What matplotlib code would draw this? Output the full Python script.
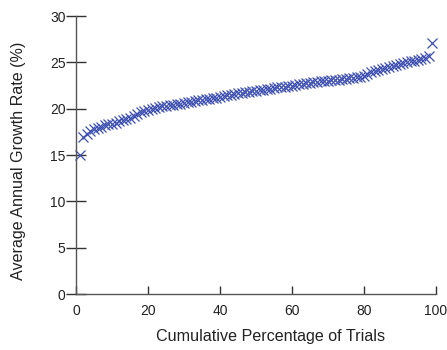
import matplotlib
matplotlib.use("Agg")
import matplotlib.pyplot as plt
import numpy as np

plt.rcParams['font.family'] = ['Liberation Sans', 'DejaVu Sans']

trial_pct = list(range(1, 100))
growth_rate = [
    15.0, 16.9, 17.3, 17.6, 17.8, 17.9, 18.0, 18.2, 18.3, 18.4,
    18.5, 18.7, 18.8, 18.9, 19.0, 19.2, 19.4, 19.6, 19.8, 19.9,
    20.0, 20.1, 20.2, 20.3, 20.3, 20.4, 20.4, 20.5, 20.5, 20.6,
    20.7, 20.7, 20.8, 20.9, 20.9, 21.0, 21.1, 21.2, 21.2, 21.3,
    21.4, 21.5, 21.5, 21.6, 21.7, 21.7, 21.8, 21.8, 21.9, 21.9,
    22.0, 22.0, 22.1, 22.1, 22.2, 22.3, 22.3, 22.4, 22.5, 22.5,
    22.6, 22.7, 22.7, 22.8, 22.8, 22.9, 22.9, 23.0, 23.0, 23.0,
    23.1, 23.1, 23.1, 23.2, 23.2, 23.3, 23.3, 23.4, 23.4, 23.5,
    23.8, 24.0, 24.1, 24.2, 24.3, 24.4, 24.5, 24.6, 24.7, 24.8,
    24.9, 25.0, 25.1, 25.2, 25.3, 25.4, 25.5, 25.7, 27.1,
]
x_ticks = [0, 20, 40, 60, 80, 100]
y_ticks = [0, 5, 10, 15, 20, 25, 30]

fig = plt.figure(figsize=(4.47, 3.5), dpi=100)
ax = fig.add_axes([0.170, 0.160, 0.805, 0.794])

ax.plot(trial_pct, growth_rate, linestyle='none', marker='x',
        markersize=7, markeredgewidth=0.9, color='#3d4fb0', clip_on=False)

ax.set_xlim(0, 100)
ax.set_ylim(0, 30)
ax.set_xticks(x_ticks)
ax.set_yticks(y_ticks)

for s in ['top', 'right']:
    ax.spines[s].set_visible(False)
for s in ['left', 'bottom']:
    ax.spines[s].set_color('#555555')
    ax.spines[s].set_linewidth(1.0)

ax.tick_params(axis='x', direction='in', length=6, width=1, color='#333333',
               labelsize=10, pad=7, labelcolor='#222222')
ax.tick_params(axis='y', direction='inout', length=15, width=1, color='#333333',
               labelsize=10, pad=0, labelcolor='#222222')

ax.set_xlabel('Cumulative Percentage of Trials', fontsize=11.6, color='#222222')
ax.set_ylabel('Average Annual Growth Rate (%)', fontsize=11.6, color='#222222')
ax.xaxis.set_label_coords(0.54, -0.125)
ax.yaxis.set_label_coords(-0.139, 0.478)

fig.savefig('out.png', dpi=100)
